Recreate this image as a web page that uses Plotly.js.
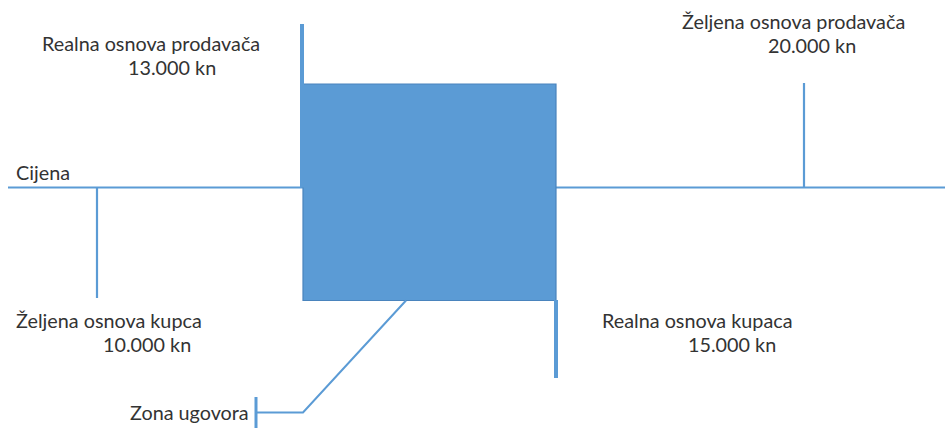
<!DOCTYPE html>
<html>
<head>
<meta charset="utf-8">
<script src="https://cdn.plot.ly/plotly-3.0.1.min.js"></script>
<style>html,body{margin:0;padding:0;background:#fff;}#chart{width:945px;height:428px;}</style>
</head>
<body>
<div id="chart"></div>
<script>
// Data
const labels = ["Željena osnova kupca", "Realna osnova prodavača", "Realna osnova kupaca", "Željena osnova prodavača"];
const values = [10000, 13000, 15000, 20000];
const axisLabel = "Cijena";
const zoneLabel = "Zona ugovora";

// Schematic layout (diagram is not to scale)
const posX = [97, 303, 556, 804];
const W = 945, H = 428;
const axisY = 187.5;
const blue = "#5B9BD5";
const textColor = "#333333";
const fnt = {family: "Lato, 'Open Sans', sans-serif", size: 19.8, color: textColor};

function fmt(v) { return String(v).replace(/\B(?=(\d{3})+(?!\d))/g, ".") + " kn"; }

const traces = [];
function seg(xs, ys, w, c) {
  traces.push({x: xs, y: ys, mode: "lines", line: {color: c || blue, width: w}, hoverinfo: "skip", showlegend: false});
}
// price axis
seg([8, W], [axisY, axisY], 2.2);
// contract zone rectangle (between seller real and buyer real)
traces.push({x: [posX[1], posX[2], posX[2], posX[1], posX[1]], y: [84, 84, 300.5, 300.5, 84], mode: "lines",
  fill: "toself", fillcolor: blue, line: {color: "#4a84bd", width: 1.2}, hoverinfo: "skip", showlegend: false});
// marker ticks
seg([posX[0], posX[0]], [axisY, 298], 2.2);
seg([posX[1] - 1, posX[1] - 1], [24, axisY], 4);
seg([posX[2], posX[2]], [300, 378], 4);
seg([posX[3], posX[3]], [83, axisY], 2.2);
// leader line for zone
seg([406, 303, 256], [300.5, 412.5, 412.5], 2);
seg([256, 256], [397, 428], 3);

const ann = [];
function txt(t, x, y, anchor) {
  ann.push({text: t, x: x, y: y, xref: "x", yref: "y", xanchor: anchor || "left", yanchor: "middle", showarrow: false, font: fnt});
}
txt(axisLabel, 14, 172);
txt(labels[1], 40, 43); txt(fmt(values[1]), 126, 67);
txt(labels[0], 14, 320); txt(fmt(values[0]), 101, 344);
txt(labels[2], 600, 320); txt(fmt(values[2]), 686, 344);
txt(labels[3], 680, 21); txt(fmt(values[3]), 766, 45);
txt(zoneLabel, 128, 412);

const layout = {
  width: W, height: H, margin: {l: 0, r: 0, t: 0, b: 0},
  paper_bgcolor: "#fff", plot_bgcolor: "#fff",
  xaxis: {range: [0, W], visible: false, fixedrange: true},
  yaxis: {range: [H, 0], visible: false, fixedrange: true},
  annotations: ann, showlegend: false
};
Plotly.newPlot("chart", traces, layout, {staticPlot: true, displayModeBar: false});
</script>
</body>
</html>
